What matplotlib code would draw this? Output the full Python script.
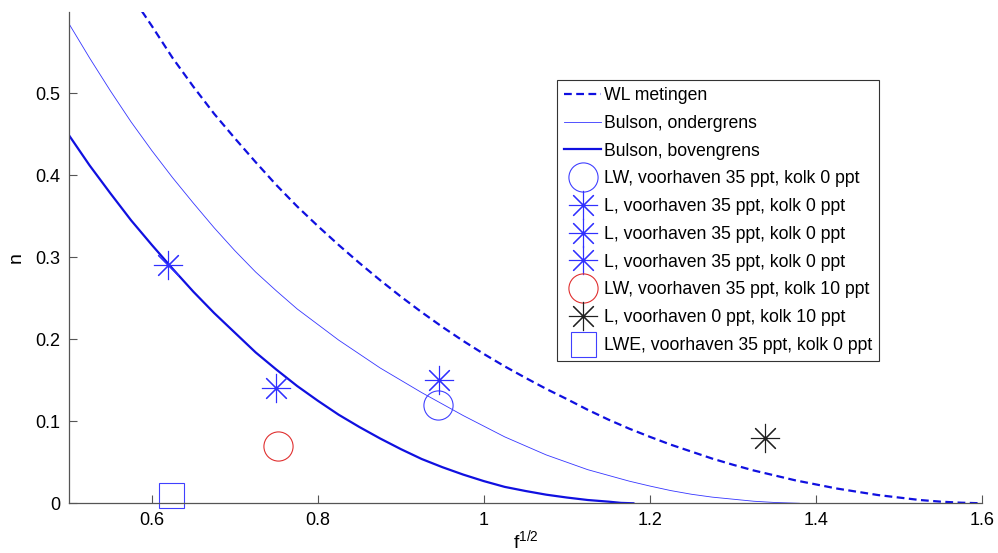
import matplotlib
matplotlib.use('Agg')
import matplotlib.pyplot as plt

plt.rcParams['font.family'] = ['Liberation Sans', 'DejaVu Sans']
plt.rcParams['mathtext.default'] = 'regular'

# curves (x = f^(1/2), y = n)
wl_x = [0.588, 0.600, 0.625, 0.650, 0.675, 0.700, 0.725, 0.750, 0.775, 0.800, 0.825, 0.850,
        0.875, 0.900, 0.925, 0.950, 0.975, 1.000, 1.025, 1.050, 1.075, 1.100, 1.125, 1.150,
        1.175, 1.200, 1.225, 1.250, 1.275, 1.300, 1.325, 1.350, 1.375, 1.400, 1.425, 1.450,
        1.475, 1.500, 1.525, 1.550, 1.575, 1.600]
wl_y = [0.600, 0.582, 0.543, 0.508, 0.475, 0.445, 0.416, 0.388, 0.362, 0.338, 0.315, 0.293,
        0.272, 0.252, 0.233, 0.215, 0.198, 0.182, 0.167, 0.153, 0.1395, 0.127, 0.114, 0.102,
        0.091, 0.081, 0.0715, 0.063, 0.0545, 0.047, 0.040, 0.034, 0.028, 0.023, 0.018, 0.014,
        0.010, 0.007, 0.004, 0.002, 0.0007, 0.000]

onder_x = [0.500, 0.525, 0.550, 0.575, 0.600, 0.625, 0.650, 0.675, 0.700, 0.725, 0.750, 0.775,
           0.800, 0.825, 0.850, 0.875, 0.900, 0.925, 0.950, 0.975, 1.000, 1.025, 1.050, 1.075,
           1.100, 1.125, 1.150, 1.175, 1.200, 1.225, 1.250, 1.275, 1.300, 1.325, 1.350, 1.380]
onder_y = [0.585, 0.543, 0.503, 0.465, 0.430, 0.397, 0.366, 0.336, 0.308, 0.282, 0.259, 0.237,
           0.218, 0.199, 0.182, 0.165, 0.150, 0.135, 0.121, 0.107, 0.094, 0.081, 0.070, 0.059,
           0.050, 0.041, 0.034, 0.027, 0.021, 0.0155, 0.011, 0.0075, 0.005, 0.0025, 0.001, 0.000]

boven_x = [0.500, 0.525, 0.550, 0.575, 0.600, 0.625, 0.650, 0.675, 0.700, 0.725, 0.750, 0.775,
           0.800, 0.825, 0.850, 0.875, 0.900, 0.925, 0.950, 0.975, 1.000, 1.025, 1.050, 1.075,
           1.100, 1.125, 1.150, 1.165, 1.180]
boven_y = [0.449, 0.412, 0.378, 0.345, 0.315, 0.286, 0.258, 0.232, 0.208, 0.184, 0.163, 0.143,
           0.125, 0.108, 0.093, 0.079, 0.066, 0.054, 0.044, 0.035, 0.027, 0.020, 0.015, 0.0105,
           0.007, 0.004, 0.002, 0.0005, 0.000]

# measurements
lw_x, lw_y = [0.945], [0.12]
l1_x, l1_y = [0.62], [0.29]
l2_x, l2_y = [0.75], [0.14]
l3_x, l3_y = [0.946], [0.15]
lw10_x, lw10_y = [0.752], [0.07]
l0_x, l0_y = [1.339], [0.08]
lwe_x, lwe_y = [0.6235], [0.01]

labels = ['WL metingen', 'Bulson, ondergrens', 'Bulson, bovengrens',
          'LW, voorhaven 35 ppt, kolk 0 ppt',
          'L, voorhaven 35 ppt, kolk 0 ppt',
          'L, voorhaven 35 ppt, kolk 0 ppt',
          'L, voorhaven 35 ppt, kolk 0 ppt',
          'LW, voorhaven 35 ppt, kolk 10 ppt',
          'L, voorhaven 0 ppt, kolk 10 ppt',
          'LWE, voorhaven 35 ppt, kolk 0 ppt']

fig = plt.figure(figsize=(9.98, 5.53), dpi=100)
ax = fig.add_axes([0.069, 0.0899, 0.915, 0.889])

blue = '#1010e0'
ast = (8, 2, 0)
ax.plot(wl_x, wl_y, color=blue, lw=1.6, ls=(0, (3.5, 2)), label=labels[0])
ax.plot(onder_x, onder_y, color='#3535ff', lw=0.6, label=labels[1])
ax.plot(boven_x, boven_y, color=blue, lw=1.6, label=labels[2])
mk = dict(ls='none', ms=21, mew=0.8, clip_on=False)
ax.plot(lw_x, lw_y, marker='o', mfc='none', mec='#4040ff', label=labels[3], **mk)
ax.plot(l1_x, l1_y, marker=ast, mec='#3030ff', label=labels[4], **mk)
ax.plot(l2_x, l2_y, marker=ast, mec='#3030ff', label=labels[5], **mk)
ax.plot(l3_x, l3_y, marker=ast, mec='#3030ff', label=labels[6], **mk)
ax.plot(lw10_x, lw10_y, marker='o', mfc='none', mec='#e03030', label=labels[7], **mk)
ax.plot(l0_x, l0_y, marker=ast, mec='#202020', label=labels[8], **mk)
ax.plot(lwe_x, lwe_y, ls='none', marker='s', ms=18, mfc='none', mec='#4040ff', mew=0.8,
        clip_on=False, label=labels[9])

ax.set_xlim(0.5, 1.6)
ax.set_ylim(0, 0.5995)
ax.set_xticks([0.6, 0.8, 1.0, 1.2, 1.4, 1.6])
ax.set_xticklabels(['0.6', '0.8', '1', '1.2', '1.4', '1.6'])
ax.set_yticks([0, 0.1, 0.2, 0.3, 0.4, 0.5])
ax.set_yticklabels(['0', '0.1', '0.2', '0.3', '0.4', '0.5'])
ax.tick_params(direction='in', length=6, width=0.8, color='#555555', labelsize=13, pad=6)
for s in ['top', 'right']:
    ax.spines[s].set_visible(False)
for s in ['left', 'bottom']:
    ax.spines[s].set_color('#555555')
    ax.spines[s].set_linewidth(0.9)

ax.set_xlabel('$f^{1/2}$', fontsize=14, labelpad=0)
ax.set_ylabel('n', fontsize=14, labelpad=8)

leg = ax.legend(loc='upper left', bbox_to_anchor=(0.5345, 0.861), borderaxespad=0,
                fontsize=12.7, handlelength=2.1, handletextpad=0.15, labelspacing=0.61,
                borderpad=0.4, fancybox=False, framealpha=1, edgecolor='#333333',
                numpoints=1)
leg.get_frame().set_linewidth(0.8)

fig.savefig('out.png', dpi=100)
